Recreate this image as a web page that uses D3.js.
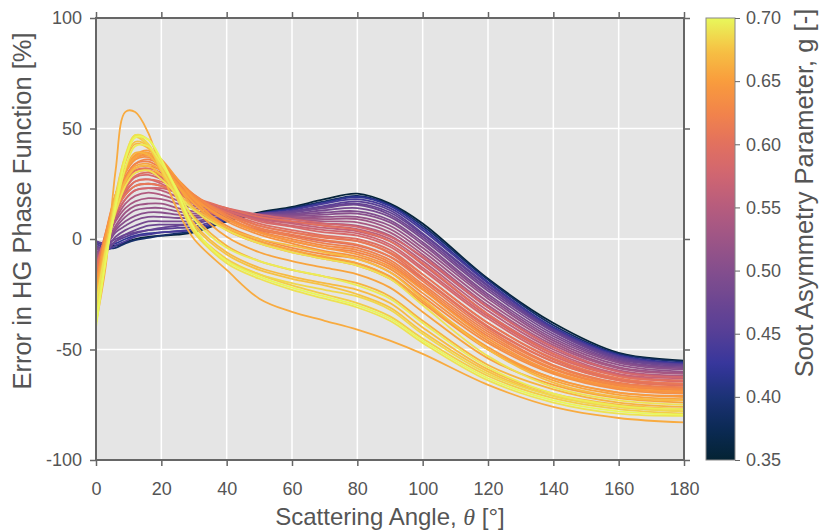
<!DOCTYPE html>
<html>
<head>
<meta charset="utf-8">
<script src="https://cdn.jsdelivr.net/npm/d3@7"></script>
<style>
body { margin: 0; background: #fff; }
svg { display: block; }
</style>
</head>
<body>
<div id="chart"></div>
<script>
// Data

var angles = [0, 3, 6, 9, 12, 16, 20, 25, 30, 40, 50, 60, 70, 80, 90, 100, 120, 140, 160, 180];

var gValues = [0.355, 0.39, 0.42, 0.44, 0.455, 0.465, 0.475, 0.485, 0.495, 0.505,
	0.515, 0.525, 0.535, 0.545, 0.555, 0.565, 0.575, 0.58, 0.585, 0.595,
	0.595, 0.60, 0.605, 0.61, 0.615, 0.62, 0.625, 0.63, 0.635, 0.64,
	0.645, 0.645, 0.65, 0.655, 0.655, 0.66, 0.665, 0.67, 0.67, 0.675,
	0.68, 0.685, 0.69, 0.69, 0.695, 0.70];

var errorCurves = [
	[-1, -3, -3, -1.5, 0, 1, 1.5, 2, 3, 8, 12, 14.5, 18, 20.5, 16, 7, -18, -38, -51.5, -55],
	[-2, -4, -4, -2, -0.5, 0.5, 1.5, 2.5, 3.5, 8, 11.5, 14, 17, 19.5, 15.5, 6, -18.5, -39, -52, -55.5],
	[-1, -3, -2, 0, 1.5, 2.5, 3, 3.5, 4, 8.5, 11.5, 13.5, 16.5, 19, 15, 5, -19.5, -40, -52.5, -56],
	[-3, -5, -3, -1, 1, 2, 3, 3.5, 4.5, 9, 11, 13, 16, 18, 14, 4, -20, -40.5, -53, -56.5],
	[-2, -4, -1, 1, 2.5, 4, 4.5, 5, 5.5, 9.5, 11, 12.5, 15, 17, 13, 2.5, -21, -41, -53.5, -57],
	[-1, -2, 0, 2, 3, 4, 5, 6, 7, 10, 11.5, 12.5, 14.5, 16, 12, 2, -21.5, -41.5, -54, -57],
	[-3, -5, -1, 2, 4, 6, 6.5, 6.5, 7, 10, 11, 12, 14, 15.5, 11, 1, -22.5, -42, -54.5, -57.5],
	[-4, -4, 1, 4, 6, 8, 8, 8, 8, 10.5, 11, 11.5, 13, 14, 10, 0, -23.5, -43, -55, -58],
	[-5, -3, 3, 6, 8.5, 10, 10, 9.5, 9.5, 11, 11, 11, 12, 12.5, 8.5, -1.5, -25, -44, -55.5, -58.5],
	[-6, -3, 4, 8, 10.5, 12, 12, 11, 10.5, 11.5, 11, 10.5, 11, 11.5, 7.5, -2.5, -26, -45, -56, -59],
	[-7, -2, 5, 10, 13, 14, 14, 12.5, 11.5, 12, 11, 10, 10, 10, 6, -4, -27, -46, -57, -60],
	[-8, -2, 6, 12, 15, 16, 16, 14, 12.5, 12, 10.5, 9.5, 9, 9, 4.5, -5.5, -28.5, -47, -58, -60.5],
	[-9, -1, 8, 14, 17, 18.5, 18, 16, 14, 12.5, 10, 9, 8, 7.5, 3, -7, -30, -48, -58.5, -61],
	[-10, -1, 9, 16, 19.5, 21, 20, 17.5, 15, 13, 10, 8, 7, 6, 1.5, -8.5, -31, -49, -59.5, -62],
	[-12, -1, 10, 18, 22, 23, 22, 19, 16, 13, 9.5, 7.5, 6, 4.5, 0, -10, -32.5, -50, -60, -62.5],
	[-13, 0, 12, 20, 24, 25, 24, 20.5, 17, 13, 9, 7, 5, 3.5, -1, -11.5, -34, -51, -61, -63],
	[-14, 0, 13, 21, 26, 27, 25, 21, 17, 12.5, 8.5, 6, 4, 2.5, -2.5, -13, -35, -52, -61.5, -64],
	[-12, 1, 11, 18, 22, 23, 23, 21, 18, 14, 11, 9, 7, 5.5, 1, -8, -31, -49, -60, -62.5],
	[-15, 1, 15, 23, 28, 29, 27, 22.5, 18, 13, 8, 5.5, 3, 1.5, -3.5, -14, -36, -53, -62, -64.5],
	[-17, 0, 14, 23, 28.5, 30, 28, 23, 18, 12, 7, 4, 1.5, 0, -5, -16, -38, -54.5, -63.5, -65.5],
	[-14, 3, 17, 26, 31, 31, 28, 22, 16, 9, 4, 1.5, -1, -3, -8, -18, -40, -55.5, -64, -66.5],
	[-15, 2, 14, 22, 26, 27, 26, 23, 19, 14, 10, 8, 6, 4, -1, -11, -34, -52, -62, -64],
	[-18, 1, 16, 26, 31, 32, 30, 24.5, 19, 12, 6, 3, 0.5, -1, -6.5, -17.5, -39.5, -55.5, -64, -66],
	[-16, 2, 13, 20, 24, 25, 24, 21, 17, 11, 6, 3, 1, -1, -6, -16, -38, -54, -63, -65.5],
	[-19, 0, 16, 26, 32, 33, 31, 25, 19, 11, 5, 2, -0.5, -2.5, -8, -19, -41, -57, -65, -67],
	[-20, 2, 18, 28, 34, 35, 32, 26, 20, 11, 4.5, 1, -2, -4, -9.5, -20.5, -42, -57.5, -65.5, -67.5],
	[-22, 0, 17, 28, 34, 36, 33, 26, 19, 9, 3, -1, -4, -6, -11.5, -22.5, -44, -59, -66.5, -68.5],
	[-21, 3, 20, 31, 37, 38, 34, 27, 20, 10, 3.5, 0, -3, -5, -10.5, -21.5, -43, -58.5, -66, -68],
	[-24, 0, 18, 30, 36, 37, 33, 25, 17, 6, 0, -4, -7, -9, -15, -26, -47, -61, -68, -70],
	[-23, 2, 20, 31, 37.5, 39, 35, 27, 19, 8, 2, -2, -5.5, -8, -13.5, -24.5, -46, -60.5, -67.5, -69.5],
	[-25, -1, 18, 30, 36, 38, 34, 25, 16, 4, -2, -6, -9, -12, -18, -29, -50, -63, -69.5, -71],
	[-22, 1, 15, 25, 30, 31, 29, 24, 18, 9, 3, -1, -4, -7, -12.5, -23, -45, -60, -67, -69],
	[-26, 1, 20, 32, 38, 40, 36, 27, 18, 5, -1, -5, -8.5, -11, -17, -28, -49, -63, -69.5, -71.5],
	[-28, -2, 18, 31, 37, 39, 34, 24, 14, 1, -6, -10, -13, -16, -22, -33, -54, -66, -72, -74],
	[-25, 0, 16, 27, 33, 34, 31, 24, 16, 5, -1, -5, -8, -11, -17, -28, -50, -64, -70.5, -72.5],
	[-38, -12, 31, 57.5, 57.5, 48, 31, 13, 0, -14, -27, -33, -37, -41, -46, -52, -66, -76, -81, -83],
	[-30, -4, 17, 32, 39, 38, 31, 20, 10, -3, -10, -14, -17, -20, -26, -37, -57, -68, -74, -76],
	[-32, -6, 17, 35, 43, 41, 33, 20, 7, -6, -13, -17, -20, -23, -29, -40, -59, -70, -75, -77],
	[-27, -3, 13, 26, 32, 33, 29, 21, 14, 5, 0, -3, -6, -9, -15, -27, -50, -65, -71.5, -73],
	[-30, -4, 20, 37, 44, 42, 33, 20, 6, -7, -14, -18, -21, -25, -31, -42, -60, -71, -76, -78],
	[-34, -8, 16, 36, 46, 42, 31, 18, 4, -9, -16, -21, -25, -29, -35, -45, -62, -72, -77, -79],
	[-36, -8, 17, 37, 47, 43, 32, 18, 3, -10, -16, -20, -23, -26, -32, -43, -61, -71, -76, -78],
	[-38, -9, 18, 38, 47, 45, 35, 20, 4, -11, -18, -23, -27, -31, -37, -47, -64, -74, -79, -80],
	[-30, -5, 12, 24, 30, 31, 27, 20, 13, 4, -2, -6, -9, -12, -18, -30, -53, -67, -73, -75],
	[-37, -8, 14, 32, 42, 42, 34, 22, 9, -4, -10, -14, -17, -21, -27, -38, -58, -70, -75.5, -77],
	[-40, -10, 15, 36, 46, 45, 36, 21, 5, -10, -17, -22, -26, -30, -36, -46, -63, -73, -78, -79.5]
];

var xTicks = [0, 20, 40, 60, 80, 100, 120, 140, 160, 180];
var yTicks = [-100, -50, 0, 50, 100];
var gTicks = [0.35, 0.40, 0.45, 0.50, 0.55, 0.60, 0.65, 0.70];

// colour map (thermal-like), one colour per 0.025 of g
var thermalColors = ["#042333", "#0b2a55", "#1c3276", "#35369c", "#553f97", "#6c4692", "#844e8d",
	"#9d5586", "#b65c7e", "#cf6571", "#e2705f", "#f2844a", "#f99c3d", "#f6c244", "#e8f85b"];

// Globals

var width = 820;
var height = 531;
var plot = {l: 96, r: 684, t: 18, b: 460};
var fontFam = "'Liberation Sans', Arial, Helvetica, sans-serif";
var axisGrey = "#666";
var textGrey = "#555";

var svg = d3.select("#chart")
	.append("svg")
	.attr("width", width)
	.attr("height", height)
	.style("font-family", fontFam);

var x = d3.scaleLinear().domain([0, 180]).range([plot.l, plot.r]);
var y = d3.scaleLinear().domain([-100, 100]).range([plot.b, plot.t]);
var colorMap = d3.scaleSequential(d3.piecewise(d3.interpolateRgb, thermalColors))
	.domain([0.35, 0.70]);
var plainNum = function(d) { return String(d); };

// Plot background + grid
svg.append("rect")
	.attr("x", plot.l).attr("y", plot.t)
	.attr("width", plot.r - plot.l).attr("height", plot.b - plot.t)
	.attr("fill", "#e5e5e5");

svg.append("g").selectAll("line")
	.data(xTicks)
	.enter().append("line")
		.attr("x1", d => x(d)).attr("x2", d => x(d))
		.attr("y1", plot.t).attr("y2", plot.b)
		.attr("stroke", "#fff").attr("stroke-width", 1.5);

svg.append("g").selectAll("line")
	.data(yTicks)
	.enter().append("line")
		.attr("x1", plot.l).attr("x2", plot.r)
		.attr("y1", d => y(d)).attr("y2", d => y(d))
		.attr("stroke", "#fff").attr("stroke-width", 1.5);

// Curves
svg.append("clipPath").attr("id", "plotClip")
	.append("rect")
	.attr("x", plot.l).attr("y", plot.t)
	.attr("width", plot.r - plot.l).attr("height", plot.b - plot.t);

var line = d3.line()
	.x(function(d, i) { return x(angles[i]); })
	.y(function(d) { return y(d); })
	.curve(d3.curveCatmullRom.alpha(0.5));

svg.append("g")
	.attr("clip-path", "url(#plotClip)")
	.selectAll("path")
	.data(errorCurves)
	.enter().append("path")
		.attr("d", line)
		.attr("fill", "none")
		.attr("stroke", function(d, i) { return colorMap(gValues[i]); })
		.attr("stroke-width", 1.8);

// Frame + axes
svg.append("rect")
	.attr("x", plot.l).attr("y", plot.t)
	.attr("width", plot.r - plot.l).attr("height", plot.b - plot.t)
	.attr("fill", "none")
	.attr("stroke", axisGrey).attr("stroke-width", 2);

function StyleAxis(g) {
	g.select(".domain").remove();
	g.selectAll(".tick line").attr("stroke", axisGrey).attr("stroke-width", 1.5);
	g.selectAll(".tick text")
		.attr("fill", textGrey)
		.style("font-size", "18px")
		.style("font-family", fontFam);
}

svg.append("g")
	.attr("transform", "translate(0," + plot.b + ")")
	.call(d3.axisBottom(x).tickValues(xTicks).tickSize(6).tickPadding(16).tickFormat(plainNum))
	.call(StyleAxis);

svg.append("g")
	.attr("transform", "translate(0," + plot.t + ")")
	.call(d3.axisTop(x).tickValues(xTicks).tickSize(6).tickFormat(""))
	.call(StyleAxis);

svg.append("g")
	.attr("transform", "translate(" + plot.l + ",0)")
	.call(d3.axisLeft(y).tickValues(yTicks).tickSize(6).tickPadding(8).tickFormat(plainNum))
	.call(StyleAxis);

svg.append("g")
	.attr("transform", "translate(" + plot.r + ",0)")
	.call(d3.axisRight(y).tickValues(yTicks).tickSize(6).tickFormat(""))
	.call(StyleAxis);

// Axis titles
svg.append("text")
	.attr("transform", "translate(31,211) rotate(-90)")
	.attr("text-anchor", "middle")
	.attr("fill", textGrey)
	.style("font-size", "25.5px")
	.text("Error in HG Phase Function [%]");

var xTitle = svg.append("text")
	.attr("x", 390).attr("y", 525)
	.attr("text-anchor", "middle")
	.attr("fill", textGrey)
	.style("font-size", "24px");
xTitle.append("tspan").text("Scattering Angle, ");
xTitle.append("tspan")
	.style("font-style", "italic")
	.style("font-family", "'Liberation Serif', 'DejaVu Serif', serif")
	.text("\u03b8");
xTitle.append("tspan").text(" [\u00b0]");

// Colorbar
var cb = {x: 706, w: 29};
var gScale = d3.scaleLinear().domain([0.35, 0.70]).range([plot.b, plot.t]);

var grad = svg.append("defs").append("linearGradient")
	.attr("id", "cbGrad")
	.attr("x1", 0).attr("y1", 1).attr("x2", 0).attr("y2", 0);
grad.selectAll("stop")
	.data(d3.range(0, 1.0001, 0.02))
	.enter().append("stop")
		.attr("offset", d => d)
		.attr("stop-color", d => colorMap(0.35 + 0.35 * d));

svg.append("rect")
	.attr("x", cb.x).attr("y", plot.t)
	.attr("width", cb.w).attr("height", plot.b - plot.t)
	.attr("fill", "url(#cbGrad)")
	.attr("stroke", "#888").attr("stroke-width", 1);

svg.append("g")
	.attr("transform", "translate(" + (cb.x + cb.w) + ",0)")
	.call(d3.axisRight(gScale).tickValues(gTicks).tickSize(5).tickPadding(6).tickFormat(d3.format(".2f")))
	.call(StyleAxis)
	.selectAll(".tick line").attr("stroke-width", 1);

svg.append("text")
	.attr("transform", "translate(813,193) rotate(-90)")
	.attr("text-anchor", "middle")
	.attr("fill", textGrey)
	.style("font-size", "25.5px")
	.text("Soot Asymmetry Parameter, g [-]");
</script>
</body>
</html>
